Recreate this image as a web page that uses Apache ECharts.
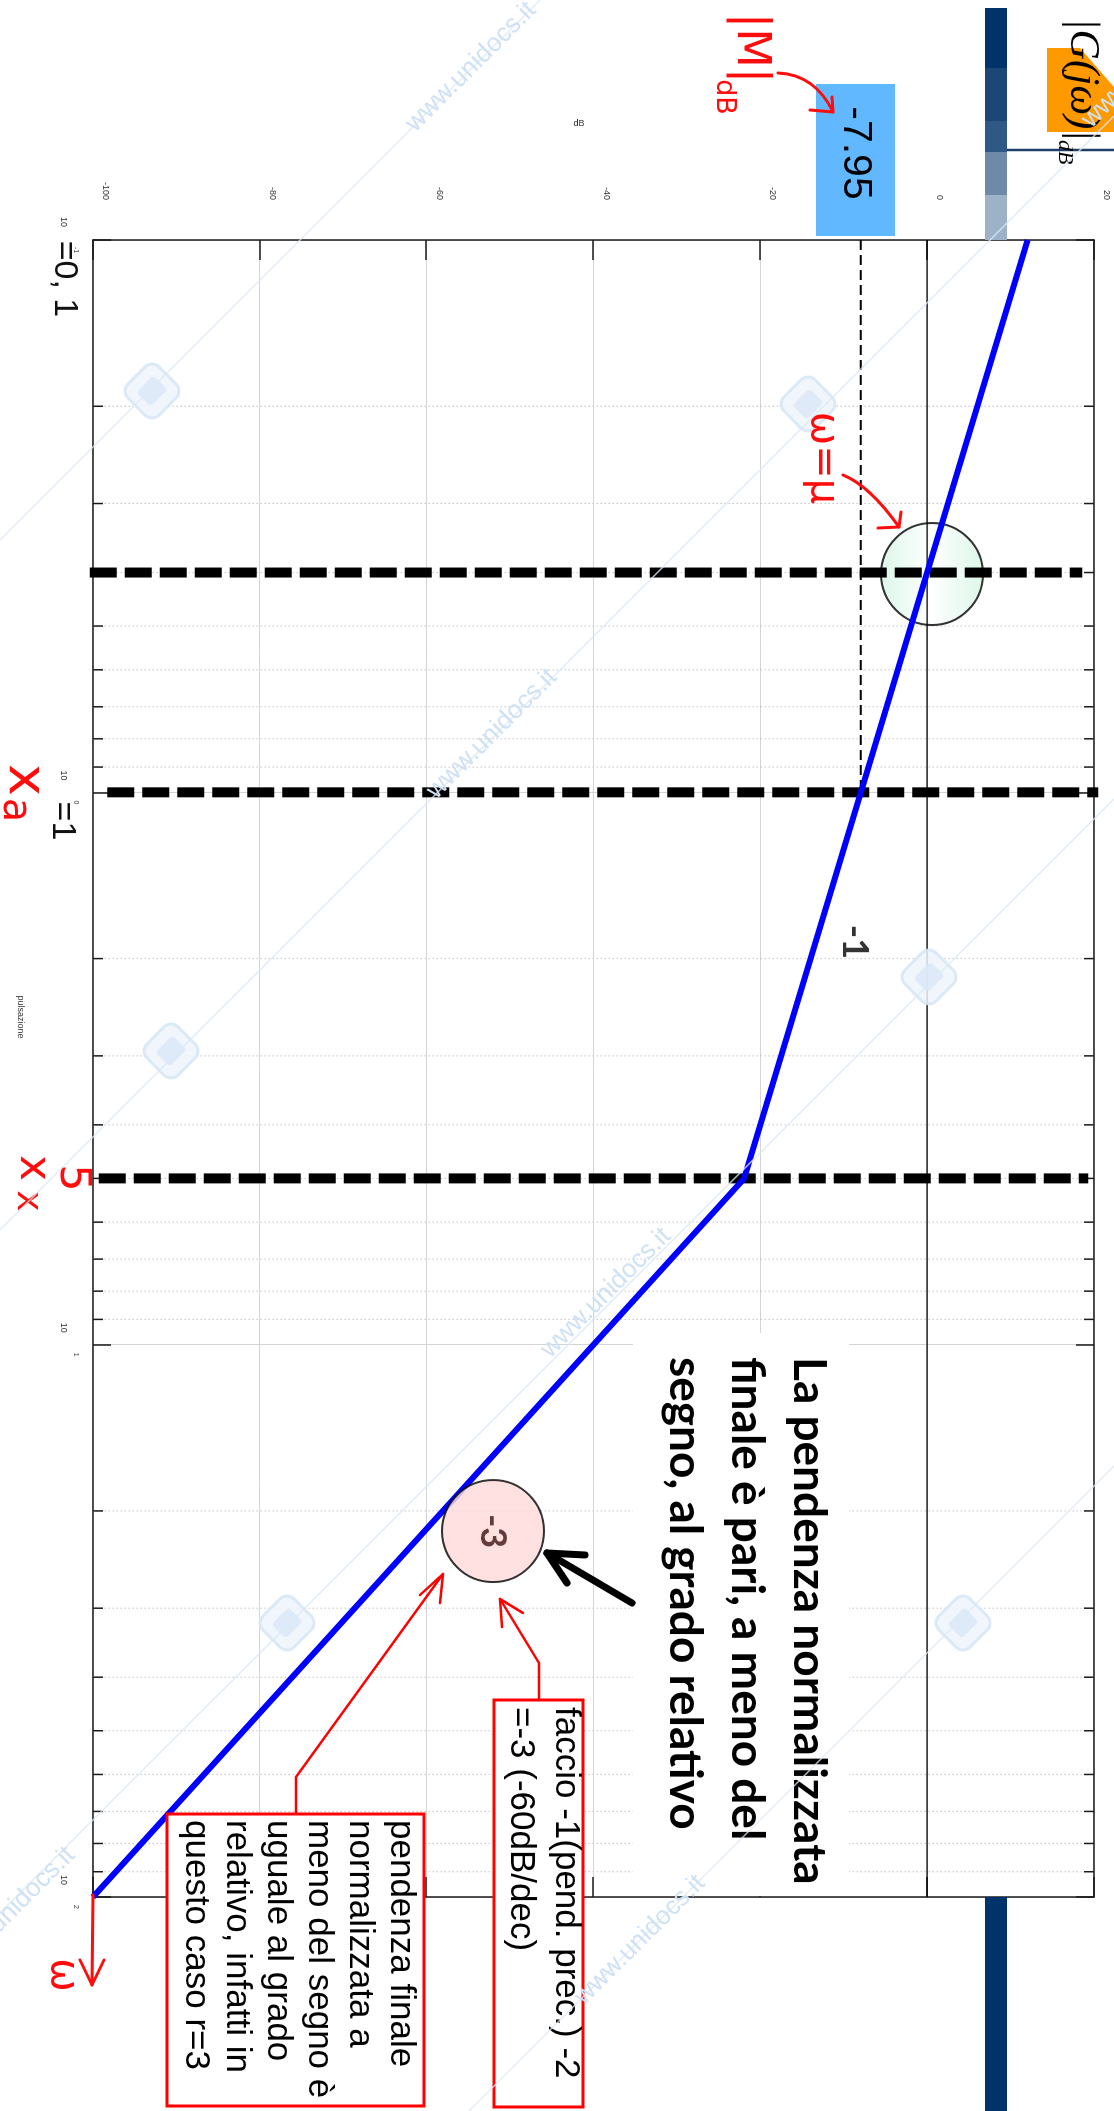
<!DOCTYPE html>
<html>
<head>
<meta charset="utf-8">
<script src="https://cdn.jsdelivr.net/npm/echarts@6/dist/echarts.min.js"></script>
<style>
  html, body { margin: 0; padding: 0; width: 1114px; height: 2111px; overflow: hidden; background: #ffffff; }
  /* the diagram is laid out landscape and turned a quarter clockwise on the page */
  #chart { position: absolute; left: 0; top: 0; width: 2111px; height: 1114px;
           transform-origin: 0 0; transform: translate(1114px, 0) rotate(90deg); }
</style>
</head>
<body>
<div id="chart"></div>
<script>
// ---- asymptotic Bode magnitude: corner points (rad/s, dB) ----
const omega = [0.1, 0.4, 1, 5, 100];
const magDb = [12.04, 0, -7.95, -21.93, -100];

// vertical markers at the characteristic frequencies
const breakFreqs = [0.4, 1, 5];
const breakLow = [-100.4, -98.3, -99.3];
const breakHigh = [18.6, 20.5, 19.3];

// |M|dB level read at omega = 1
const levelDb = -7.95;
const levelFrom = 0.1;
const levelTo = 1;

// axes
const dbTicks = [-100, -80, -60, -40, -20, 0, 20];
const decadeExponents = ['-1', '0', '1', '2'];
const minorFreqs = [0.2, 0.3, 0.4, 0.5, 0.6, 0.7, 0.8, 0.9,
                    2, 3, 4, 5, 6, 7, 8, 9,
                    20, 30, 40, 50, 60, 70, 80, 90];

// highlighted points
const crossCircle = [0.4025, 0.58];
const slopeCircle = [21.75, -52.04];
const slopeCircleText = '-3';
const slopeLabel = [1.866, -8.65];
const slopeLabelText = '-1';

const fMin = Math.pow(10, +decadeExponents[0]);
const fMax = Math.pow(10, +decadeExponents[decadeExponents.length - 1]);

const chart = echarts.init(document.getElementById('chart'), null,
  { renderer: 'canvas', width: 2111, height: 1114 });

const axisColor = '#1a1a1a';
const gridColor = '#d4d4d4';
const red = '#ff0d0d';

function decadeLabel(v) {
  const e = Math.round(Math.log10(v));
  const i = e - (+decadeExponents[0]);
  return '{b|10}{e|' + decadeExponents[i] + '}';
}

function text(x, y, str, font, fill, extra) {
  return Object.assign({
    type: 'text', x: x, y: y, z: 20,
    style: { text: str, font: font, fill: fill,
             align: 'center', textAlign: 'center',
             verticalAlign: 'middle', textVerticalAlign: 'middle' }
  }, extra || {});
}
function poly(points, stroke, lw, z) {
  return { type: 'polyline', z: z || 20, shape: { points: points },
           style: { stroke: stroke, lineWidth: lw, fill: null, lineJoin: 'round', lineCap: 'round' } };
}
function rect(x, y, w, h, style, z) {
  return { type: 'rect', z: z || 7, shape: { x: x, y: y, width: w, height: h }, style: style };
}

// ---- decorations, annotations and watermark (layout pixels of the landscape frame) ----
const elements = [];

// slide header bar and logo
const barSegments = [[8, 68, '#00336a'], [68, 121, '#1b4675'], [121, 152, '#2f5984'],
                     [152, 195, '#6e8aa8'], [195, 240, '#9db1c7']];
barSegments.forEach(s => elements.push(rect(s[0], 107, s[1] - s[0], 22, { fill: s[2] }, 1)));
elements.push(rect(1897, 107, 214, 22, { fill: '#00336a' }, 1));
elements.push({ type: 'line', z: 1, shape: { x1: 150, y1: 0, x2: 150, y2: 107 },
                style: { stroke: '#1f3f66', lineWidth: 2.5 } });
elements.push(rect(48, 0, 84, 67, { fill: '#ff9900' }, 1));
elements.push({ type: 'polygon', z: 1, shape: { points: [[48, 34], [48, 0], [87, 0]] },
                style: { fill: '#ffffff' } });
elements.push({ type: 'text', x: 18, y: 32, z: 20,
  style: { text: '|G(jω)|', font: 'italic 42px "Liberation Serif"', fill: '#000',
           align: 'left', textAlign: 'left', verticalAlign: 'middle', textVerticalAlign: 'middle' } });
elements.push({ type: 'text', x: 140, y: 49, z: 20,
  style: { text: 'dB', font: 'italic 22px "Liberation Serif"', fill: '#000',
           align: 'left', textAlign: 'left', verticalAlign: 'middle', textVerticalAlign: 'middle' } });

// value box for the level line
elements.push(rect(84, 219, 152, 79, { fill: '#62b8fe' }, 7));
elements.push(text(153, 259, String(levelDb), '41px "Liberation Sans"', '#000'));

// axis names
elements.push(text(124, 535, 'dB', '9px "Liberation Sans"', '#333', { rotation: Math.PI / 2 }));
elements.push(text(1017, 1094, 'pulsazione', '9px "Liberation Sans"', '#333'));

// explanatory text block
elements.push(rect(1333, 265, 563, 216, { fill: '#ffffff' }, 7));
elements.push({ type: 'text', x: 1357, y: 274, z: 20,
  style: { text: 'La pendenza normalizzata\nfinale è pari, a meno del\nsegno, al grado relativo',
           font: 'bold 46px Lato', fill: '#000', lineHeight: 62,
           align: 'left', textAlign: 'left', verticalAlign: 'top', textVerticalAlign: 'top' } });
elements.push(poly([[1603, 482], [1553, 567]], '#000', 7));
elements.push(poly([[1555, 529], [1553, 567], [1583, 547]], '#000', 7));

// red call-out boxes
elements.push(rect(1700, 531, 407, 89, { fill: '#ffffff', stroke: '#ff0000', lineWidth: 3 }, 7));
elements.push({ type: 'text', x: 1707, y: 525.5, z: 20,
  style: { text: 'faccio -1(pend. prec.) -2\n=-3 (-60dB/dec)', font: '35px "Liberation Sans"',
           fill: '#000', lineHeight: 45,
           align: 'left', textAlign: 'left', verticalAlign: 'top', textVerticalAlign: 'top' } });
elements.push(poly([[1700, 575], [1663, 575], [1599, 614]], '#ff0000', 2.5));
elements.push(poly([[1613, 591], [1599, 614], [1627, 612]], '#ff0000', 2.5));

elements.push(rect(1814, 690, 292, 257, { fill: '#ffffff', stroke: '#ff0000', lineWidth: 3 }, 7));
elements.push({ type: 'text', x: 1820, y: 692.5, z: 20,
  style: { text: 'pendenza finale\nnormalizzata a\nmeno del segno è\nuguale al grado\nrelativo, infatti in\nquesto caso r=3',
           font: '35px "Liberation Sans"', fill: '#000', lineHeight: 41,
           align: 'left', textAlign: 'left', verticalAlign: 'top', textVerticalAlign: 'top' } });
elements.push(poly([[1813, 818], [1777, 818], [1574, 671]], '#ff0000', 2.5));
elements.push(poly([[1595, 694], [1574, 671], [1603, 674]], '#ff0000', 2.5));

// handwritten notes
elements.push(text(48, 364, '|M|', '46px "DejaVu Sans"', red));
elements.push(text(97, 390, 'dB', '27px "DejaVu Sans"', red));
elements.push({ type: 'bezierCurve', z: 20,
  shape: { x1: 73, y1: 336, cpx1: 74.5, cpy1: 299, x2: 112, y2: 281 },
  style: { stroke: red, lineWidth: 3, fill: null, lineCap: 'round' } });
elements.push(poly([[110, 304], [112, 281], [97, 282]], red, 3));

elements.push(text(458, 292, 'ω=μ', '40px "DejaVu Sans"', red));
elements.push({ type: 'bezierCurve', z: 20,
  shape: { x1: 475, y1: 271, cpx1: 486, cpy1: 244, x2: 527, y2: 215 },
  style: { stroke: red, lineWidth: 3, fill: null, lineCap: 'round' } });
elements.push(poly([[528, 236], [527, 215], [512, 213]], red, 3));

elements.push(text(279, 1050, '=0, 1', '34px "Liberation Sans"', '#111'));
elements.push(text(821, 1052, '=1', '34px "Liberation Sans"', '#111'));
elements.push(text(780, 1090, 'x', '54px "DejaVu Sans"', red));
elements.push(text(810, 1100, 'a', '40px "DejaVu Sans"', red));
elements.push(text(1178, 1042, '5', '43px "DejaVu Sans"', red));
elements.push(text(1168, 1082, 'x', '44px "DejaVu Sans"', red));
elements.push(text(1201, 1087, 'x', '36px "DejaVu Sans"', red));
elements.push(poly([[1895, 1021], [1985, 1022]], red, 3));
elements.push(poly([[1960, 1034], [1985, 1022], [1960, 1010]], red, 3));
elements.push(text(1975, 1052, 'ω', '40px "DejaVu Sans"', red));

// watermark
const wmColor = '#dbe8f5';
[-574, 116, 799, 1466].forEach(k => {
  elements.push({ type: 'line', z: 50, shape: { x1: k, y1: 0, x2: k + 1114, y2: 1114 },
                  style: { stroke: wmColor, lineWidth: 1.5, opacity: 0.8 } });
});
[[67, 643], [63, -33], [734, 622], [1293, 508], [1940, 474], [1912, 1104]].forEach(p => {
  elements.push(text(p[0], p[1], 'www.unidocs.it', '26px "Liberation Sans"', '#cfe1f4',
                     { z: 50, rotation: 3 * Math.PI / 4 }));
});
[[391, 962], [404, 306], [1051, 943], [977, 185], [1623, 827], [1623, 151]].forEach(p => {
  elements.push({ type: 'rect', z: 15, x: p[0], y: p[1], rotation: Math.PI / 4,
                  shape: { x: -22, y: -22, width: 44, height: 44, r: 10 },
                  style: { fill: '#eef4fb', stroke: '#d6e6f5', lineWidth: 3, opacity: 0.85 } });
  elements.push({ type: 'rect', z: 15, x: p[0], y: p[1], rotation: Math.PI / 4,
                  shape: { x: -10, y: -12, width: 20, height: 24, r: 4 },
                  style: { fill: '#dbe8f6', opacity: 0.85 } });
});

// ---- series ----
const series = [];

// minor log grid with inside ticks on both frequency edges
series.push({
  type: 'custom', xAxisIndex: 0, yAxisIndex: 0, z: 1, silent: true,
  data: minorFreqs.map(v => [v, 0]),
  encode: { x: 0, y: 1 },
  renderItem: function (params, api) {
    const v = api.value(0);
    const top = api.coord([v, dbTicks[dbTicks.length - 1]]);
    const bot = api.coord([v, dbTicks[0]]);
    return { type: 'group', children: [
      { type: 'line', shape: { x1: top[0], y1: top[1], x2: bot[0], y2: bot[1] },
        style: { stroke: '#c4c4c4', lineWidth: 1, lineDash: [1.5, 2.5] } },
      { type: 'line', shape: { x1: bot[0], y1: bot[1], x2: bot[0], y2: bot[1] - 10 },
        style: { stroke: axisColor, lineWidth: 1.5 } },
      { type: 'line', shape: { x1: top[0], y1: top[1], x2: top[0], y2: top[1] + 10 },
        style: { stroke: axisColor, lineWidth: 1.5 } }
    ] };
  }
});

// crossing marker (under the lines)
series.push({
  type: 'scatter', z: 2, silent: true, symbol: 'circle', symbolSize: 102,
  data: [crossCircle],
  itemStyle: {
    color: new echarts.graphic.LinearGradient(0, 0, 0, 1, [
      { offset: 0, color: '#d3f4e3' }, { offset: 0.5, color: '#ffffff' }, { offset: 1, color: '#d3f4e3' }]),
    borderColor: '#000', borderWidth: 2
  }
});

// 0 dB reference
series.push({
  type: 'line', z: 3, silent: true, symbol: 'none',
  data: [[fMin, 0], [fMax, 0]],
  lineStyle: { color: '#000', width: 1.2 }
});

// level line at |M|dB
series.push({
  type: 'line', z: 5, silent: true, symbol: 'none', clip: false,
  data: [[levelFrom, levelDb], [levelTo, levelDb]],
  lineStyle: { color: '#000', width: 2, type: [10, 5] }
});

// thick dashed markers
breakFreqs.forEach((w, i) => {
  series.push({
    type: 'line', z: 5, silent: true, symbol: 'none', clip: false,
    data: [[w, breakLow[i]], [w, breakHigh[i]]],
    lineStyle: { color: '#000', width: 10, type: [27, 8], cap: 'butt' }
  });
});

// asymptotic magnitude
series.push({
  type: 'line', z: 6, silent: true, symbol: 'none',
  data: omega.map((w, i) => [w, magDb[i]]),
  lineStyle: { color: '#0000ff', width: 6 }
});

// slope markers
series.push({
  type: 'scatter', z: 10, silent: true, symbol: 'circle', symbolSize: 102,
  data: [slopeCircle],
  itemStyle: { color: '#ffd9d9', borderColor: '#000', borderWidth: 2 },
  label: { show: true, position: 'inside', formatter: slopeCircleText,
           fontFamily: 'Lato', fontWeight: 'bold', fontSize: 36, color: '#3d1212' }
});
series.push({
  type: 'scatter', z: 10, silent: true, symbolSize: 0,
  data: [slopeLabel],
  label: { show: true, position: 'inside', formatter: slopeLabelText,
           fontFamily: 'Lato', fontWeight: 'bold', fontSize: 36, color: '#000' }
});

const logAxisBase = {
  type: 'log', logBase: 10, min: fMin, max: fMax, splitNumber: 3,
  axisLine: { show: true, onZero: false, lineStyle: { color: axisColor, width: 1.5 } },
  axisTick: { show: true, inside: true, length: 18, lineStyle: { color: axisColor, width: 1.5 } }
};
const dbAxisBase = {
  type: 'value', min: dbTicks[0], max: dbTicks[dbTicks.length - 1], interval: dbTicks[1] - dbTicks[0],
  axisLine: { show: true, onZero: false, lineStyle: { color: axisColor, width: 1.5 } },
  axisTick: { show: true, inside: true, length: 20, lineStyle: { color: axisColor, width: 1.5 } }
};

chart.setOption({
  animation: false,
  backgroundColor: '#ffffff',
  grid: { left: 240, right: 214, top: 20, bottom: 93, containLabel: false, outerBoundsMode: 'none' },
  xAxis: [
    Object.assign({}, logAxisBase, {
      position: 'bottom',
      splitLine: { show: true, lineStyle: { color: gridColor, width: 1 } },
      axisLabel: {
        show: true, margin: 14, formatter: decadeLabel,
        rich: {
          b: { fontSize: 9, fontFamily: 'Liberation Sans', color: '#333', verticalAlign: 'bottom' },
          e: { fontSize: 7, fontFamily: 'Liberation Sans', color: '#333', verticalAlign: 'bottom',
               padding: [0, 10, 13, 20] }
        }
      }
    }),
    Object.assign({}, logAxisBase, {
      position: 'top', splitLine: { show: false }, axisLabel: { show: false }
    })
  ],
  yAxis: [
    Object.assign({}, dbAxisBase, {
      position: 'left',
      splitLine: { show: true, lineStyle: { color: gridColor, width: 1 } },
      axisLabel: { show: true, margin: 40, fontSize: 9, fontFamily: 'Liberation Sans', color: '#333',
                   verticalAlign: 'bottom', padding: [0, 0, 8, 0] }
    }),
    Object.assign({}, dbAxisBase, {
      position: 'right', splitLine: { show: false }, axisLabel: { show: false }
    })
  ],
  series: series,
  graphic: { elements: elements }
});
</script>
</body>
</html>
